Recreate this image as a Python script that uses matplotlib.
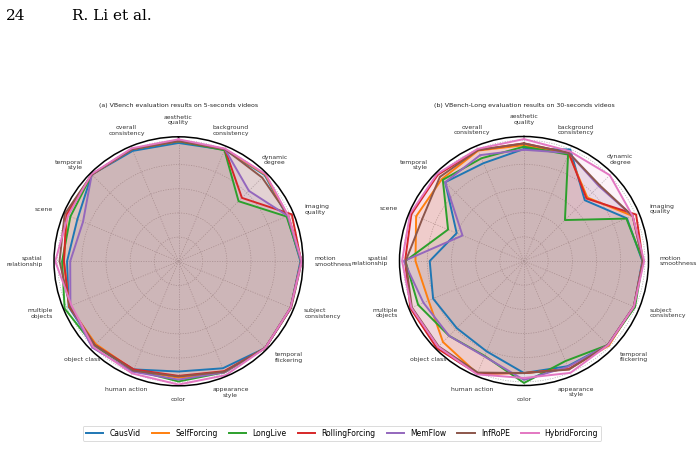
import numpy as np
import matplotlib
matplotlib.use("Agg")
import matplotlib.pyplot as plt

categories = ["aesthetic\nquality", "background\nconsistency", "dynamic\ndegree", "imaging\nquality",
              "motion\nsmoothness", "subject\nconsistency", "temporal\nflickering", "appearance\nstyle",
              "color", "human action", "object class", "multiple\nobjects", "spatial\nrelationship",
              "scene", "temporal\nstyle", "overall\nconsistency"]

methods = ["CausVid", "SelfForcing", "LongLive", "RollingForcing", "MemFlow", "InfRoPE", "HybridForcing"]
colors = ["#1f77b4", "#ff7f0e", "#2ca02c", "#d62728", "#9467bd", "#8c564b", "#e377c2"]

# (a) VBench, 5-second videos
short_causvid = [0.979, 0.999, 1.009, 0.973, 1.009, 1.004, 1.015, 0.958, 0.912, 0.968, 0.989, 0.984, 0.922, 0.906, 1.015, 0.989]
short_selfforcing = [0.994, 1.004, 1.015, 0.979, 1.015, 1.004, 1.015, 0.994, 0.963, 0.973, 0.968, 0.979, 0.948, 0.999, 1.015, 1.004]
short_longlive = [0.994, 0.994, 0.703, 0.968, 1.015, 1.004, 1.015, 0.994, 0.994, 0.973, 0.989, 1.020, 0.963, 0.968, 1.015, 1.004]
short_rollingforcing = [0.999, 1.004, 0.742, 1.015, 1.015, 1.004, 1.015, 0.984, 0.948, 0.968, 0.979, 0.979, 0.948, 1.004, 1.015, 1.004]
short_memflow = [1.004, 1.004, 0.824, 0.979, 1.015, 1.004, 1.015, 0.994, 0.979, 0.989, 1.009, 0.968, 0.896, 0.855, 1.015, 1.004]
short_infrope = [0.994, 1.004, 0.979, 0.984, 1.020, 1.009, 1.015, 0.989, 0.953, 0.979, 0.979, 0.973, 0.984, 1.020, 1.015, 1.004]
short_hybridforcing = [1.009, 1.009, 1.020, 0.984, 1.020, 1.004, 1.015, 1.020, 1.020, 1.004, 0.999, 0.958, 1.020, 0.989, 1.020, 1.012]

# (b) VBench-Long, 30-second videos
long_causvid = [0.927, 0.999, 0.711, 0.922, 0.979, 0.984, 0.982, 0.942, 0.927, 0.809, 0.786, 0.814, 0.780, 0.603, 0.922, 0.876]
long_selfforcing = [0.958, 0.963, 0.742, 0.973, 0.984, 0.984, 0.991, 0.968, 0.927, 1.009, 0.948, 0.855, 0.898, 0.966, 0.960, 0.989]
long_longlive = [0.946, 0.953, 0.479, 0.917, 0.984, 0.994, 0.982, 0.896, 1.009, 0.850, 0.876, 0.948, 0.981, 0.680, 0.950, 0.920]
long_rollingforcing = [0.973, 0.968, 0.731, 1.004, 0.984, 0.984, 0.982, 0.968, 0.927, 1.009, 1.020, 1.018, 0.984, 1.009, 1.009, 0.994]
long_memflow = [0.920, 0.968, 0.876, 0.973, 0.984, 0.984, 0.982, 0.948, 0.984, 0.855, 0.876, 0.901, 0.994, 0.551, 0.922, 0.948]
long_infrope = [0.973, 0.968, 0.886, 0.973, 0.984, 0.984, 0.982, 0.972, 0.927, 0.999, 0.999, 1.004, 0.979, 0.911, 0.984, 0.994]
long_hybridforcing = [1.009, 0.984, 1.004, 0.973, 0.994, 0.984, 0.984, 1.002, 0.968, 1.015, 1.004, 1.009, 1.009, 1.020, 1.018, 1.004]

short_data = [short_causvid, short_selfforcing, short_longlive, short_rollingforcing,
              short_memflow, short_infrope, short_hybridforcing]
long_data = [long_causvid, long_selfforcing, long_longlive, long_rollingforcing,
             long_memflow, long_infrope, long_hybridforcing]

titles = ["(a) VBench evaluation results on 5-seconds videos",
          "(b) VBench-Long evaluation results on 30-seconds videos"]

fig = plt.figure(figsize=(7, 4.66), dpi=100)

fig.text(6 / 700, 1 - 20 / 466, "24", family="DejaVu Serif", fontsize=11, va="baseline", ha="left")
fig.text(72 / 700, 1 - 20 / 466, "R. Li et al.", family="DejaVu Serif", fontsize=11, va="baseline", ha="left")

n = len(categories)
angles = np.arange(n) * 2 * np.pi / n
rmax = 1.03
label_r = 1.125

# alignment of category labels: c = centered, l = left, r = right
align = ["c", "c", "c", "l", "l", "l", "l", "c", "c", "c", "c", "r", "r", "r", "r", "c"]

ax_w = 249 / 700
ax_h = 249 / 466
centers = [(178.5, 261.3), (524.0, 261.0)]

handles = []
for idx, (data, title) in enumerate(zip([short_data, long_data], titles)):
    cx, cy = centers[idx]
    ax = fig.add_axes([(cx - 124.5) / 700, (466 - cy - 124.5) / 466, ax_w, ax_h], projection="polar")
    ax.set_theta_offset(np.pi / 2)
    ax.set_theta_direction(-1)
    ax.set_ylim(0, rmax)
    ax.set_yticks([0.2, 0.4, 0.6, 0.8, 1.0])
    ax.set_yticklabels([])
    ax.set_xticks(angles)
    ax.set_xticklabels([])
    ax.tick_params(length=0)
    ax.grid(True, color="#bcbcbc", linestyle=(0, (1.5, 1.5)), linewidth=0.6)
    ax.spines["polar"].set_color("black")
    ax.spines["polar"].set_linewidth(1.1)
    ax.set_axisbelow(True)

    for vals, name, col in zip(data, methods, colors):
        v = list(vals) + [vals[0]]
        a = list(angles) + [angles[0]]
        ln, = ax.plot(a, v, color=col, linewidth=1.4, label=name)
        ax.fill(a, v, color=col, alpha=0.085, linewidth=0)
        if idx == 0:
            handles.append(ln)

    for ang, lab, al in zip(angles, categories, align):
        deg = np.degrees(ang)
        if al == "c":
            ha = "center"
            va = "bottom" if (deg < 90 or deg > 270) else "top"
        elif al == "l":
            ha = "left"
            va = "center"
        else:
            ha = "right"
            va = "center"
        ax.text(ang, label_r, lab, ha=ha, va=va, fontsize=4.4, color="#333333",
                linespacing=1.15, clip_on=False)

    fig.text(cx / 700, 1 - 105.7 / 466, title, ha="center", va="center", fontsize=4.5, color="#222222")

leg = fig.legend(handles=handles, labels=methods, loc="center", bbox_to_anchor=(342 / 700, 1 - 433.3 / 466),
                 ncol=7, fontsize=5.5, frameon=True, handlelength=2.3, columnspacing=1.45,
                 handletextpad=0.8, borderpad=0.4)
leg.get_frame().set_linewidth(0.6)

fig.savefig("out.png", dpi=100)
